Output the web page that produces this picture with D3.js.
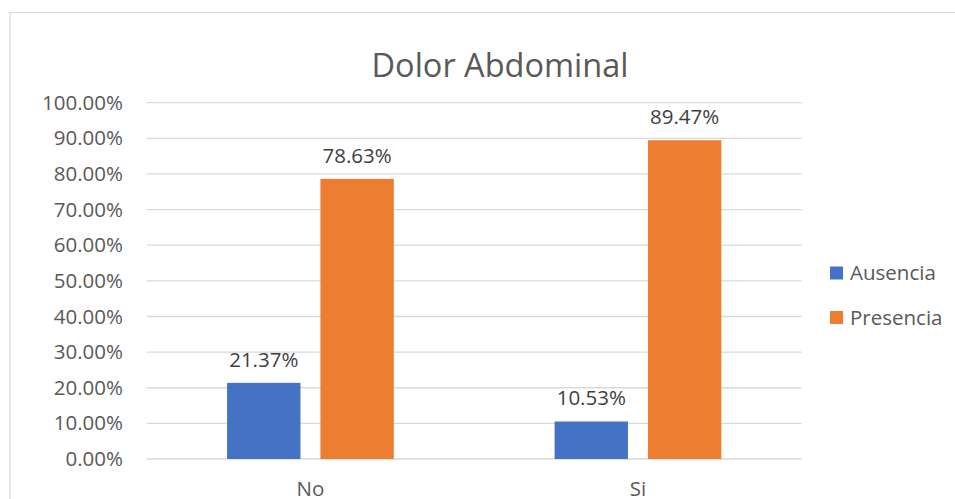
<!DOCTYPE html>
<html>
<head>
<meta charset="utf-8">
<script src="https://cdn.jsdelivr.net/npm/d3@7"></script>
<style>
  body { margin: 0; background: #fff; }
  text { font-family: "Open Sans", sans-serif; }
</style>
</head>
<body>
<div id="chart-area"></div>
<script>
const categories = ["No", "Si"];
const seriesNames = ["Ausencia", "Presencia"];
const ausencia = [21.37, 10.53];
const presencia = [78.63, 89.47];
const yTicks = [0, 10, 20, 30, 40, 50, 60, 70, 80, 90, 100];
const colors = ["#4472C4", "#ED7D31"];

const W = 955, H = 499;
const plot = { left: 146.7, right: 801.7, top: 102.7, bottom: 459 };
const fs = "20.5px";

const svg = d3.select("#chart-area")
  .append("svg")
  .attr("width", W)
  .attr("height", H);

// chart frame
svg.append("rect")
  .attr("x", 10).attr("y", 12.5)
  .attr("width", 960).attr("height", 520)
  .attr("fill", "none")
  .attr("stroke", "#D9D9D9")
  .attr("stroke-width", 1.3);

const x0 = d3.scaleBand().domain(categories).range([plot.left, plot.right]);
const x1 = d3.scaleBand().domain(seriesNames)
  .range([80.4, x0.bandwidth() - 80.4])
  .paddingInner(0.214);
const y = d3.scaleLinear().domain([0, 100]).range([plot.bottom, plot.top]);

// gridlines
svg.append("g")
  .selectAll("line")
  .data(yTicks)
  .join("line")
  .attr("x1", plot.left).attr("x2", plot.right)
  .attr("y1", d => y(d)).attr("y2", d => y(d))
  .attr("stroke", "#D9D9D9")
  .attr("stroke-width", 1.3);

// y axis labels
const yAxis = d3.axisLeft(y).tickValues(yTicks).tickSize(0).tickPadding(0)
  .tickFormat(d => d.toFixed(2) + "%");
svg.append("g")
  .attr("transform", `translate(123,0)`)
  .call(yAxis)
  .call(g => g.select(".domain").remove())
  .selectAll("text")
  .attr("font-size", fs)
  .attr("fill", "#595959")
  .attr("font-family", "Open Sans, sans-serif");

// x axis labels
const xAxis = d3.axisBottom(x0).tickSize(0).tickPadding(0);
svg.append("g")
  .attr("transform", `translate(0,${plot.bottom + 22})`)
  .call(xAxis)
  .call(g => g.select(".domain").remove())
  .selectAll("text")
  .attr("font-size", fs)
  .attr("fill", "#595959")
  .attr("font-family", "Open Sans, sans-serif");

const rows = categories.map((c, i) => ({
  cat: c,
  values: [
    { name: seriesNames[0], v: ausencia[i] },
    { name: seriesNames[1], v: presencia[i] }
  ]
}));

const groups = svg.append("g")
  .selectAll("g")
  .data(rows)
  .join("g")
  .attr("transform", d => `translate(${x0(d.cat)},0)`);

groups.selectAll("rect")
  .data(d => d.values)
  .join("rect")
  .attr("x", d => x1(d.name))
  .attr("width", x1.bandwidth())
  .attr("y", d => y(d.v))
  .attr("height", d => y(0) - y(d.v))
  .attr("fill", (d, i) => colors[i]);

groups.selectAll("text")
  .data(d => d.values)
  .join("text")
  .attr("x", d => x1(d.name) + x1.bandwidth() / 2)
  .attr("y", d => y(d.v) - 16)
  .attr("text-anchor", "middle")
  .attr("font-size", fs)
  .attr("fill", "#404040")
  .text(d => d.v.toFixed(2) + "%");

// title
svg.append("text")
  .attr("x", 500)
  .attr("y", 77)
  .attr("text-anchor", "middle")
  .attr("font-size", "32.5px")
  .attr("fill", "#595959")
  .text("Dolor Abdominal");

// legend
const legend = svg.append("g")
  .selectAll("g")
  .data(seriesNames)
  .join("g")
  .attr("transform", (d, i) => `translate(830,${273 + i * 44.5})`);

legend.append("rect")
  .attr("x", 0).attr("y", -6.5)
  .attr("width", 13).attr("height", 13)
  .attr("fill", (d, i) => colors[i]);

legend.append("text")
  .attr("x", 20)
  .attr("y", 0)
  .attr("dy", "0.35em")
  .attr("font-size", fs)
  .attr("fill", "#595959")
  .text(d => d);
</script>
</body>
</html>
